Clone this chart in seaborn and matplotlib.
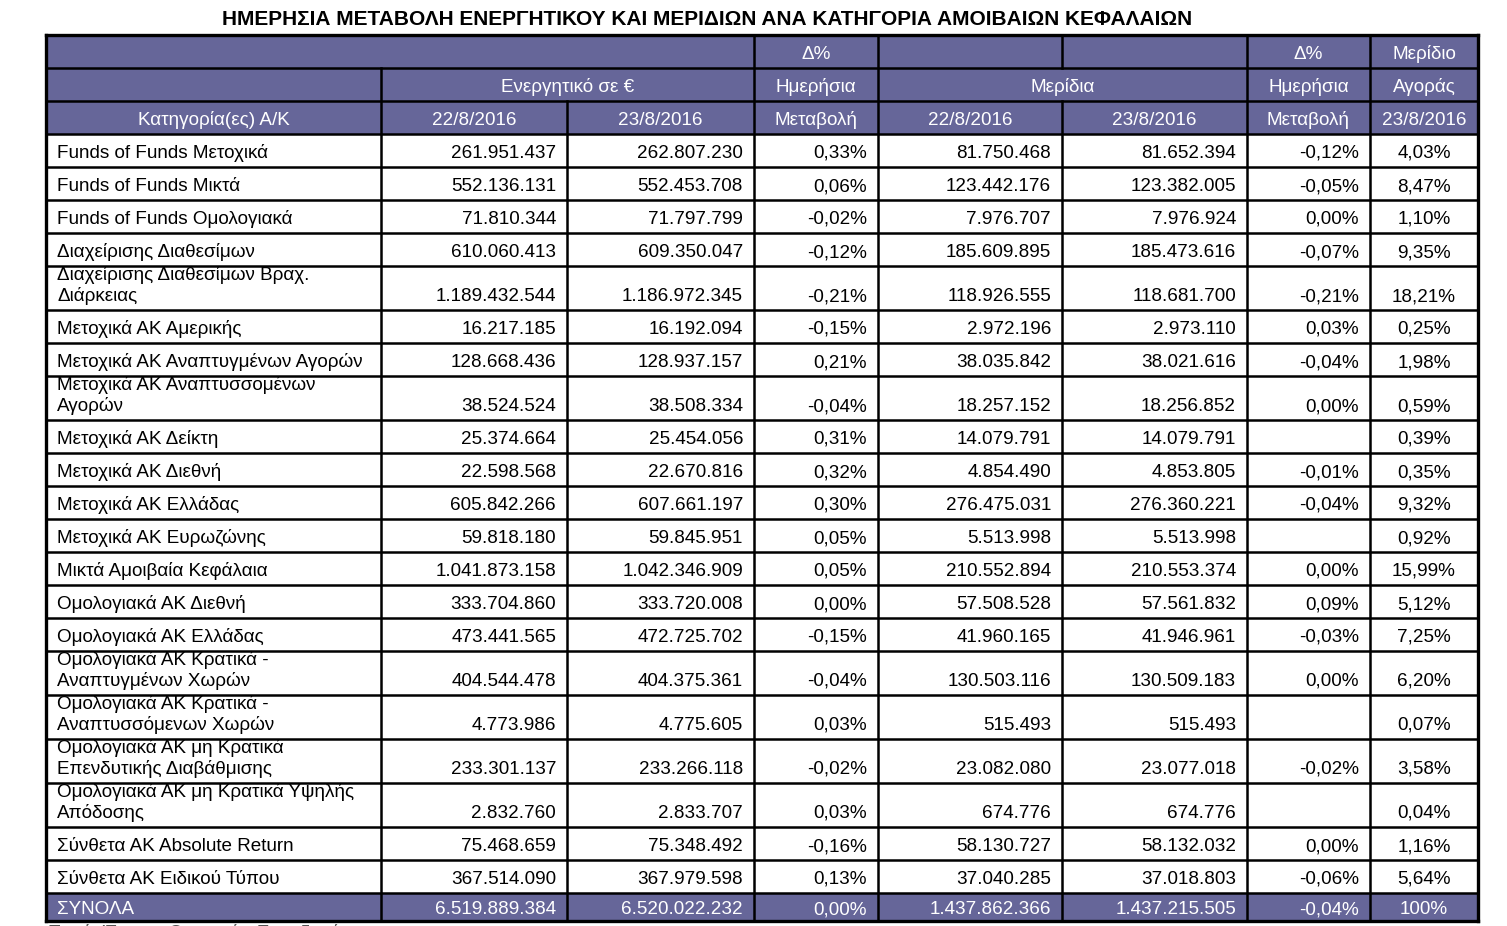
import matplotlib
matplotlib.use('Agg')
import matplotlib.pyplot as plt
import seaborn as sns
from matplotlib.patches import Rectangle

# Table content
TITLE = 'ΗΜΕΡΗΣΙΑ ΜΕΤΑΒΟΛΗ ΕΝΕΡΓΗΤΙΚΟΥ ΚΑΙ ΜΕΡΙΔΙΩΝ ΑΝΑ ΚΑΤΗΓΟΡΙΑ ΑΜΟΙΒΑΙΩΝ ΚΕΦΑΛΑΙΩΝ'
DATE_PREV = '22/8/2016'
DATE_CURR = '23/8/2016'

categories = [
    'Funds of Funds Μετοχικά',
    'Funds of Funds Μικτά',
    'Funds of Funds Ομολογιακά',
    'Διαχείρισης Διαθεσίμων',
    'Διαχείρισης Διαθεσίμων Βραχ.\nΔιάρκειας',
    'Μετοχικά ΑΚ Αμερικής',
    'Μετοχικά ΑΚ Αναπτυγμένων Αγορών',
    'Μετοχικά ΑΚ Αναπτυσσομένων\nΑγορών',
    'Μετοχικά ΑΚ Δείκτη',
    'Μετοχικά ΑΚ Διεθνή',
    'Μετοχικά ΑΚ Ελλάδας',
    'Μετοχικά ΑΚ Ευρωζώνης',
    'Μικτά Αμοιβαία Κεφάλαια',
    'Ομολογιακά ΑΚ Διεθνή',
    'Ομολογιακά ΑΚ Ελλάδας',
    'Ομολογιακά ΑΚ Κρατικά -\nΑναπτυγμένων Χωρών',
    'Ομολογιακά ΑΚ Κρατικά -\nΑναπτυσσόμενων Χωρών',
    'Ομολογιακά ΑΚ μη Κρατικά\nΕπενδυτικής Διαβάθμισης',
    'Ομολογιακά ΑΚ μη Κρατικά Υψηλής\nΑπόδοσης',
    'Σύνθετα ΑΚ Absolute Return',
    'Σύνθετα ΑΚ Ειδικού Τύπου',
]

assets_prev = [261951437, 552136131, 71810344, 610060413, 1189432544, 16217185,
               128668436, 38524524, 25374664, 22598568, 605842266, 59818180,
               1041873158, 333704860, 473441565, 404544478, 4773986, 233301137,
               2832760, 75468659, 367514090]
assets_curr = [262807230, 552453708, 71797799, 609350047, 1186972345, 16192094,
               128937157, 38508334, 25454056, 22670816, 607661197, 59845951,
               1042346909, 333720008, 472725702, 404375361, 4775605, 233266118,
               2833707, 75348492, 367979598]
assets_chg = [0.33, 0.06, -0.02, -0.12, -0.21, -0.15, 0.21, -0.04, 0.31, 0.32,
              0.30, 0.05, 0.05, 0.00, -0.15, -0.04, 0.03, -0.02, 0.03, -0.16, 0.13]
units_prev = [81750468, 123442176, 7976707, 185609895, 118926555, 2972196,
              38035842, 18257152, 14079791, 4854490, 276475031, 5513998,
              210552894, 57508528, 41960165, 130503116, 515493, 23082080,
              674776, 58130727, 37040285]
units_curr = [81652394, 123382005, 7976924, 185473616, 118681700, 2973110,
              38021616, 18256852, 14079791, 4853805, 276360221, 5513998,
              210553374, 57561832, 41946961, 130509183, 515493, 23077018,
              674776, 58132032, 37018803]
units_chg = [-0.12, -0.05, 0.00, -0.07, -0.21, 0.03, -0.04, 0.00, None, -0.01,
             -0.04, None, 0.00, 0.09, -0.03, 0.00, None, -0.02, None, 0.00, -0.06]
market_share = [4.03, 8.47, 1.10, 9.35, 18.21, 0.25, 1.98, 0.59, 0.39, 0.35,
                9.32, 0.92, 15.99, 5.12, 7.25, 6.20, 0.07, 3.58, 0.04, 1.16, 5.64]

total_label = 'ΣΥΝΟΛΑ'
total_assets_prev = 6519889384
total_assets_curr = 6520022232
total_assets_chg = 0.00
total_units_prev = 1437862366
total_units_curr = 1437215505
total_units_chg = -0.04
total_share = 100

SOURCE = 'Πηγή: Ένωση Θεσμικών Επενδυτών'

HEAD_COLOR = '#666699'


def fmt_int(v):
    return f'{v:,}'.replace(',', '.')


def fmt_pct(v):
    if v is None:
        return ''
    if v == 100:
        return '100%'
    return f'{v:.2f}%'.replace('.', ',')


sns.set_theme(style='white')
plt.rcParams['font.family'] = ['Liberation Sans', 'DejaVu Sans']

fig = plt.figure(figsize=(15.07, 9.26), dpi=100)
ax = fig.add_axes([0, 0, 1, 1])
ax.set_xlim(0, 1507)
ax.set_ylim(926, 0)
ax.axis('off')

# layout in pixels
col_x = [46, 381, 567, 754, 878, 1062, 1247, 1370, 1478]
head_top = 35
head_h = 33
row_h1 = 33
row_h2 = 44
total_h = 28
FS = 13.6
LINE_GAP = 21
BASE_OFF = 9
PAD = 11
INNER_LW = 1.8
OUTER_LW = 2.4

ax.text(707, 25, TITLE, ha='center', va='baseline', fontsize=15.0,
        fontweight='bold', color='black')

# row geometry
heights = [row_h2 if '\n' in c else row_h1 for c in categories]
tops = []
y = head_top + 3 * head_h
for h in heights:
    tops.append(y)
    y += h
total_top = y
table_bottom = total_top + total_h

# header and totals background
ax.add_patch(Rectangle((col_x[0], head_top), col_x[-1] - col_x[0], 3 * head_h,
                       facecolor=HEAD_COLOR, edgecolor='none', zorder=1))
ax.add_patch(Rectangle((col_x[0], total_top), col_x[-1] - col_x[0], total_h,
                       facecolor=HEAD_COLOR, edgecolor='none', zorder=1))


def cell_text(x0, x1, bottom, s, align, color='black', off=BASE_OFF):
    lines = s.split('\n')
    for i, line in enumerate(reversed(lines)):
        yy = bottom - off - i * LINE_GAP
        if align == 'left':
            x, ha = x0 + PAD, 'left'
        elif align == 'right':
            x, ha = x1 - PAD, 'right'
        else:
            x, ha = (x0 + x1) / 2, 'center'
        ax.text(x, yy, line, ha=ha, va='baseline', fontsize=FS, color=color, zorder=3)


# header texts
h1 = head_top + head_h
h2 = head_top + 2 * head_h
h3 = head_top + 3 * head_h
W = 'white'
cell_text(col_x[3], col_x[4], h1, 'Δ%', 'center', W)
cell_text(col_x[6], col_x[7], h1, 'Δ%', 'center', W)
cell_text(col_x[7], col_x[8], h1, 'Μερίδιο', 'center', W)
cell_text(col_x[1], col_x[3], h2, 'Ενεργητικό σε €', 'center', W)
cell_text(col_x[3], col_x[4], h2, 'Ημερήσια', 'center', W)
cell_text(col_x[4], col_x[6], h2, 'Μερίδια', 'center', W)
cell_text(col_x[6], col_x[7], h2, 'Ημερήσια', 'center', W)
cell_text(col_x[7], col_x[8], h2, 'Αγοράς', 'center', W)
for c0, c1, s in [(0, 1, 'Κατηγορία(ες) Α/Κ'), (1, 2, DATE_PREV), (2, 3, DATE_CURR),
                  (3, 4, 'Μεταβολή'), (4, 5, DATE_PREV), (5, 6, DATE_CURR),
                  (6, 7, 'Μεταβολή'), (7, 8, DATE_CURR)]:
    cell_text(col_x[c0], col_x[c1], h3, s, 'center', W)

# body
for i, cat in enumerate(categories):
    b = tops[i] + heights[i]
    vals = [fmt_int(assets_prev[i]), fmt_int(assets_curr[i]), fmt_pct(assets_chg[i]),
            fmt_int(units_prev[i]), fmt_int(units_curr[i]), fmt_pct(units_chg[i])]
    cell_text(col_x[0], col_x[1], b, cat, 'left')
    for j, v in enumerate(vals):
        cell_text(col_x[j + 1], col_x[j + 2], b, v, 'right')
    cell_text(col_x[7], col_x[8], b, fmt_pct(market_share[i]), 'center')

# totals row
cell_text(col_x[0], col_x[1], table_bottom, total_label, 'left', W, off=6.5)
tvals = [fmt_int(total_assets_prev), fmt_int(total_assets_curr), fmt_pct(total_assets_chg),
         fmt_int(total_units_prev), fmt_int(total_units_curr), fmt_pct(total_units_chg)]
for j, v in enumerate(tvals):
    cell_text(col_x[j + 1], col_x[j + 2], table_bottom, v, 'right', W, off=6.5)
cell_text(col_x[7], col_x[8], table_bottom, fmt_pct(total_share), 'center', W, off=6.5)


# grid lines
def hline(yv, x0, x1, lw=INNER_LW):
    ax.plot([x0, x1], [yv, yv], color='black', lw=lw, solid_capstyle='projecting', zorder=4)


def vline(xv, y0, y1, lw=INNER_LW):
    ax.plot([xv, xv], [y0, y1], color='black', lw=lw, solid_capstyle='projecting', zorder=4)


for yv in [h1, h2, h3] + tops[1:] + [total_top]:
    hline(yv, col_x[0], col_x[-1])
hline(head_top, col_x[0], col_x[-1], OUTER_LW)
hline(table_bottom, col_x[0], col_x[-1], OUTER_LW)
vline(col_x[0], head_top, table_bottom, OUTER_LW)
vline(col_x[-1], head_top, table_bottom, OUTER_LW)

# vertical separators, honoring merged header cells
vline(col_x[1], h1, table_bottom)
vline(col_x[2], h2, table_bottom)
vline(col_x[3], head_top, table_bottom)
vline(col_x[4], head_top, table_bottom)
vline(col_x[5], head_top, h1)
vline(col_x[5], h2, table_bottom)
vline(col_x[6], head_top, table_bottom)
vline(col_x[7], head_top, table_bottom)

# source note, cut off by the page edge as in the original scan
ax.text(col_x[0] + 2, table_bottom + 3, SOURCE, ha='left', va='top',
        fontsize=FS, color='#555555')

fig.savefig('out.png', dpi=100)
